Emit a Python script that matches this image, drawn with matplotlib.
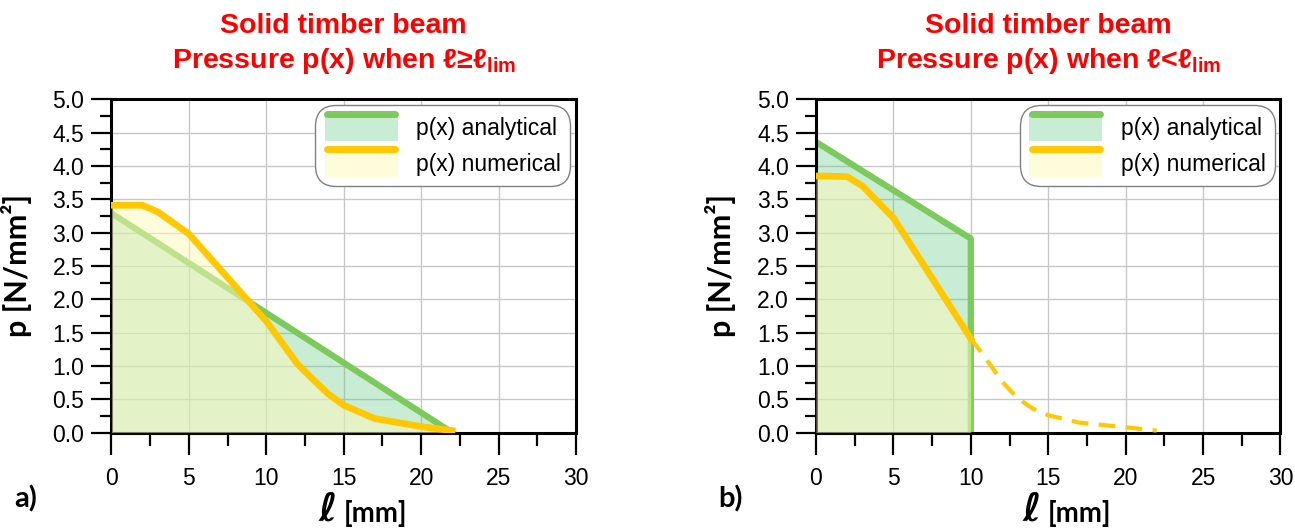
import numpy as np
import matplotlib
matplotlib.use("Agg")
import matplotlib.pyplot as plt
from matplotlib.patches import Rectangle
from matplotlib.lines import Line2D
from matplotlib.legend_handler import HandlerBase
from matplotlib.ticker import MultipleLocator

plt.rcParams['font.family'] = ['Liberation Sans', 'DejaVu Sans']
plt.rcParams['mathtext.default'] = 'regular'

# panel a) l >= l_lim
x_ana_a = [0, 22]
p_ana_a = [3.29, 0.0]
x_num_a = [0, 2, 3, 5, 10, 12, 13, 14, 15, 17, 20, 22]
p_num_a = [3.41, 3.41, 3.31, 2.98, 1.67, 1.03, 0.80, 0.58, 0.41, 0.21, 0.09, 0.03]

# panel b) l < l_lim
x_ana_b = [0, 10, 10]
p_ana_b = [4.36, 2.91, 0.0]
x_num_b = [0, 2, 3, 5, 10]
p_num_b = [3.85, 3.84, 3.70, 3.22, 1.41]
x_ext_b = [10, 11, 12, 13, 14, 15, 17, 20, 22]
p_ext_b = [1.41, 1.10, 0.77, 0.52, 0.36, 0.26, 0.15, 0.08, 0.03]

titles = ["Solid timber beam", "Solid timber beam"]
subtitles = ["Pressure p(x) when \u2113\u2265\u2113$_{lim}$",
             "Pressure p(x) when \u2113<\u2113$_{lim}$"]
panel_tags = ["a)", "b)"]
legend_labels = ["p(x) analytical", "p(x) numerical"]

GREEN = '#7cc95c'
GREEN_FILL = '#62c984'
YELLOW = '#ffc800'
YELLOW_FILL = '#fffbbb'


class FillLineKey:
    def __init__(self, line_color, fill_color, fill_alpha):
        self.line_color = line_color
        self.fill_color = fill_color
        self.fill_alpha = fill_alpha


class FillLineHandler(HandlerBase):
    def create_artists(self, legend, orig_handle, xdescent, ydescent,
                       width, height, fontsize, trans):
        rect = Rectangle((-xdescent, -ydescent), width, height,
                         facecolor=orig_handle.fill_color, alpha=orig_handle.fill_alpha,
                         edgecolor='none', transform=trans)
        top = height - ydescent
        ln = Line2D([-xdescent + 2, -xdescent + width - 2], [top, top],
                    color=orig_handle.line_color, lw=5, solid_capstyle='round',
                    transform=trans)
        return [rect, ln]


def style_axes(ax):
    ax.set_xlim(0, 30)
    ax.set_ylim(0, 5)
    ax.xaxis.set_major_locator(MultipleLocator(5))
    ax.xaxis.set_minor_locator(MultipleLocator(2.5))
    ax.yaxis.set_major_locator(MultipleLocator(0.5))
    ax.yaxis.set_minor_locator(MultipleLocator(0.25))
    ax.yaxis.set_major_formatter(matplotlib.ticker.FormatStrFormatter('%.1f'))
    ax.tick_params(axis='x', which='major', direction='out', length=16, width=1.6,
                   pad=9, labelsize=16.5, colors='black')
    ax.tick_params(axis='x', which='minor', direction='out', length=9.5, width=1.6)
    ax.tick_params(axis='y', which='major', direction='out', length=14.5, width=1.6,
                   pad=5, labelsize=16.5)
    ax.tick_params(axis='y', which='minor', direction='out', length=8, width=1.6)
    for sp in ax.spines.values():
        sp.set_linewidth(2.2)
        sp.set_color('black')
    ax.grid(True, which='major', color='#c8c8c8', lw=1.0)
    ax.set_axisbelow(True)


fig = plt.figure(figsize=(12.95, 5.30), dpi=100)
ax_a = fig.add_axes([0.0861, 0.1838, 0.3587, 0.6289])
ax_b = fig.add_axes([0.6301, 0.1838, 0.3587, 0.6289])

# a)
ax_a.fill_between(x_ana_a, p_ana_a, 0, color=GREEN_FILL, alpha=0.35, lw=0, zorder=1)
ax_a.plot(x_ana_a, p_ana_a, color=GREEN, lw=4.5, zorder=2)
ax_a.fill_between(x_num_a, p_num_a, 0, color=YELLOW_FILL, alpha=0.5, lw=0, zorder=3)
ax_a.plot(x_num_a, p_num_a, color=YELLOW, lw=4.8, zorder=4, solid_joinstyle='round')

# b)
ax_b.fill_between(x_ana_b[:2], p_ana_b[:2], 0, color=GREEN_FILL, alpha=0.35, lw=0, zorder=1)
ax_b.plot(x_ana_b, p_ana_b, color=GREEN, lw=4.5, zorder=2)
ax_b.fill_between(x_num_b, p_num_b, 0, color=YELLOW_FILL, alpha=0.5, lw=0, zorder=3)
ax_b.plot(x_num_b, p_num_b, color=YELLOW, lw=4.8, zorder=4, solid_joinstyle='round')
ax_b.plot(x_ext_b, p_ext_b, color=YELLOW, lw=3.0, ls=(0, (4, 2.5)), zorder=4)

for ax, t1, t2, tag in zip([ax_a, ax_b], titles, subtitles, panel_tags):
    style_axes(ax)
    ax.text(0.5, 1.22, t1, transform=ax.transAxes, ha='center', va='center',
            color='#ff0000', fontsize=20.5, fontweight='bold')
    ax.text(0.5, 1.115, t2, transform=ax.transAxes, ha='center', va='center',
            color='#ff0000', fontsize=20.5, fontweight='bold')
    ax.set_ylabel('p [N/mm\u00b2]', fontsize=22, fontweight='bold', family=['Lato', 'DejaVu Sans'])
    ax.yaxis.set_label_coords(-0.172, 0.5)
    # x label: big script l + [mm]
    ax.text(0.485, -0.232, '\u2113', transform=ax.transAxes, ha='right', va='center',
            fontsize=28, fontweight='bold', fontstyle='italic', family='DejaVu Sans')
    ax.text(0.5, -0.242, '[mm]', transform=ax.transAxes, ha='left', va='center',
            fontsize=20, fontweight='bold', family=['Lato', 'DejaVu Sans'])
    ax.text(-0.21, -0.2, tag, transform=ax.transAxes, ha='left', va='center',
            fontsize=21, fontweight='bold', family=['Lato', 'DejaVu Sans'])

    keys = [FillLineKey(GREEN, GREEN_FILL, 0.35), FillLineKey(YELLOW, YELLOW_FILL, 0.5)]
    leg = ax.legend(keys, legend_labels, handler_map={FillLineKey: FillLineHandler()},
                    loc='upper right', fontsize=16.5, handlelength=3.2, handleheight=1.45,
                    labelspacing=0.35, handletextpad=0.8, borderpad=0.4,
                    borderaxespad=0.25, fancybox=True, framealpha=1.0,
                    edgecolor='#808080')
    leg.get_frame().set_boxstyle('round', pad=0, rounding_size=0.9)
    leg.get_frame().set_linewidth(1.0)
    leg.set_zorder(10)

fig.savefig('out.png', dpi=100)
